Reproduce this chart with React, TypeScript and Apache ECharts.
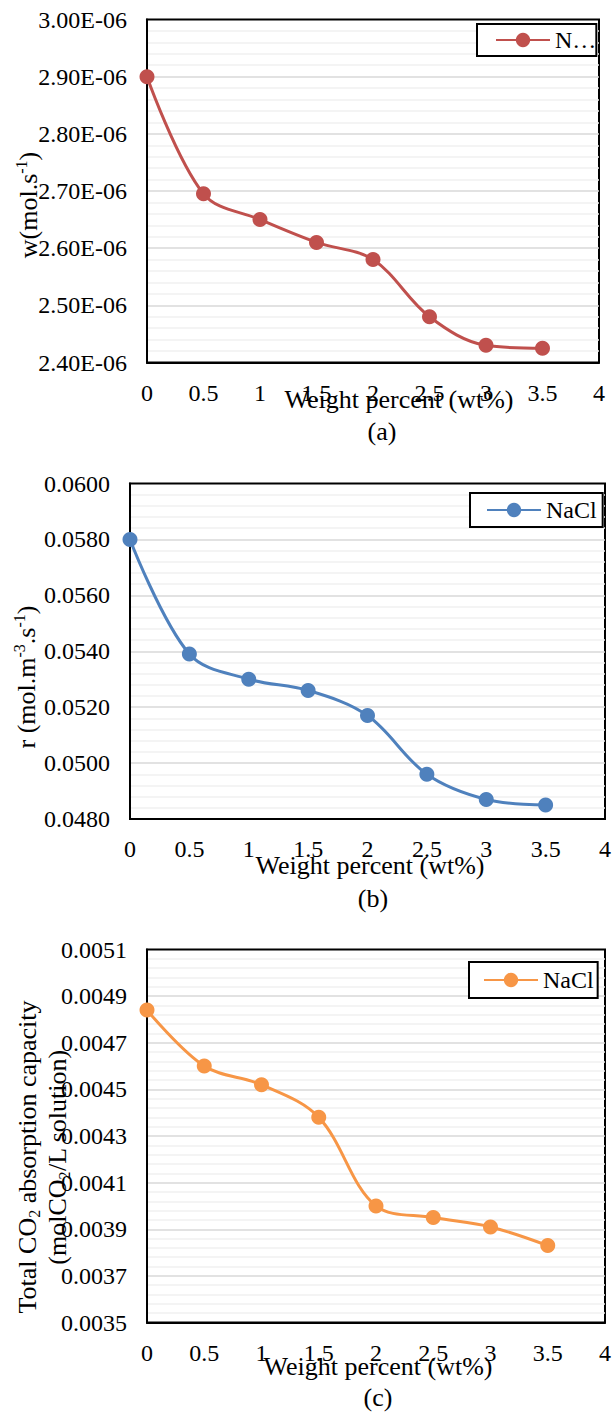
import { useEffect, useRef } from "react";
import * as echarts from "echarts";

// ---------- data ----------
const weightPercent = [0, 0.5, 1, 1.5, 2, 2.5, 3, 3.5];
const wRate = [2.9e-6, 2.695e-6, 2.65e-6, 2.61e-6, 2.58e-6, 2.48e-6, 2.43e-6, 2.425e-6];
const rRate = [0.058, 0.0539, 0.053, 0.0526, 0.0517, 0.0496, 0.0487, 0.0485];
const co2Capacity = [0.00484, 0.0046, 0.00452, 0.00438, 0.004, 0.00395, 0.00391, 0.00383];

const xTickRange = { min: 0, max: 4, interval: 0.5 };
const wTickRange = { min: 2.4e-6, max: 3.0e-6, interval: 1e-7 };
const rTickRange = { min: 0.048, max: 0.06, interval: 0.002 };
const cTickRange = { min: 0.0035, max: 0.0051, interval: 0.0002 };

const seriesNames = ["NaCl (a)", "NaCl (b)", "NaCl (c)"];
const legendLabel = "NaCl";
const xTitle = "Weight percent (wt%)";
const panelLabels = ["(a)", "(b)", "(c)"];

// ---------- layout & style ----------
const FONT = "Liberation Serif, serif";
const colors = ["#C0504D", "#4F81BD", "#F79646"];
const grids = [
  { left: 147, top: 19.5, width: 452, height: 343 },
  { left: 130, top: 483.5, width: 480, height: 335.5 },
  { left: 147, top: 949.5, width: 461.5, height: 373 },
];
const legends = [
  { left: 477, top: 24, padding: [4, 0, 4, 18], textWidth: 44 },
  { left: 470, top: 493, padding: [5, 6, 5, 16], textWidth: undefined },
  { left: 469, top: 962, padding: [6, 4, 6, 14], textWidth: undefined },
];
const xTitlePos = [
  { x: 399, y: 399 },
  { x: 370, y: 865 },
  { x: 378, y: 1366 },
];
const panelPos = [
  { x: 382, y: 431 },
  { x: 373, y: 898 },
  { x: 378, y: 1397 },
];

const fmtW = (v: number) => (v * 1e6).toFixed(2) + "E-06";
const fmt4 = (v: number) => v.toFixed(4);

export default function App() {
  const ref = useRef<HTMLDivElement>(null);

  useEffect(() => {
    if (!ref.current) return;
    const chart = echarts.init(ref.current, null, { renderer: "svg" });

    const yRanges = [wTickRange, rTickRange, cTickRange];
    const yFormatters = [fmtW, fmt4, fmt4];
    const values = [wRate, rRate, co2Capacity];

    const rich = {
      m: { fontSize: 26, fontFamily: FONT, lineHeight: 30, color: "#000" },
      sup: { fontSize: 16, fontFamily: FONT, verticalAlign: "top", color: "#000" },
      sub: { fontSize: 16, fontFamily: FONT, verticalAlign: "bottom", color: "#000" },
    };

    const textEl = (x: number, y: number, text: string, rotate = false) => ({
      type: "text",
      x,
      y,
      rotation: rotate ? Math.PI / 2 : 0,
      z: 100,
      style: {
        text,
        rich,
        fontSize: 26,
        fontFamily: FONT,
        fill: "#000",
        align: "center",
        verticalAlign: "middle",
      },
    });

    const option: any = {
      animation: false,
      backgroundColor: "#fff",
      textStyle: { fontFamily: FONT },
      grid: grids.map((g) => ({
        ...g,
        show: true,
        borderColor: "#000",
        borderWidth: 2,
        backgroundColor: "transparent",
        containLabel: false,
      })),
      xAxis: grids.map((_, i) => ({
        gridIndex: i,
        type: "value",
        min: xTickRange.min,
        max: xTickRange.max,
        interval: xTickRange.interval,
        axisLine: { show: true, onZero: false, lineStyle: { color: "#000", width: 2 } },
        axisTick: { show: false },
        splitLine: { show: false },
        axisLabel: {
          margin: 18,
          fontSize: 24,
          fontFamily: FONT,
          color: "#000",
          formatter: (v: number) => String(v),
        },
      })),
      yAxis: grids.map((_, i) => ({
        gridIndex: i,
        type: "value",
        min: yRanges[i].min,
        max: yRanges[i].max,
        interval: yRanges[i].interval,
        axisLine: { show: true, onZero: false, lineStyle: { color: "#000", width: 2 } },
        axisTick: { show: false },
        axisLabel: {
          margin: 20,
          fontSize: 24,
          fontFamily: FONT,
          color: "#000",
          formatter: yFormatters[i],
        },
        splitLine: {
          show: true,
          showMinLine: false,
          showMaxLine: false,
          lineStyle: { color: "#d9d9d9", width: 1.5 },
        },
        minorTick: { show: false, splitNumber: 5 },
        minorSplitLine: { show: true, lineStyle: { color: "#f0f0f0", width: 1.5 } },
      })),
      legend: legends.map((l, i) => ({
        data: [seriesNames[i]],
        left: l.left,
        top: l.top,
        padding: l.padding,
        itemWidth: 54,
        itemHeight: 18,
        selectedMode: false,
        borderColor: "#000",
        borderWidth: 2,
        backgroundColor: "#fff",
        formatter: () => legendLabel,
        textStyle: {
          fontSize: 24,
          fontFamily: FONT,
          color: "#000",
          ...(l.textWidth ? { width: l.textWidth, overflow: "truncate", ellipsis: "…" } : {}),
        },
      })),
      series: values.map((vals, i) => ({
        name: seriesNames[i],
        type: "line",
        xAxisIndex: i,
        yAxisIndex: i,
        data: weightPercent.map((x, j) => [x, vals[j]]),
        smooth: 0.35,
        symbol: "circle",
        symbolSize: 15,
        clip: false,
        z: 5,
        lineStyle: { color: colors[i], width: 3 },
        itemStyle: { color: colors[i] },
      })),
      graphic: [
        textEl(28, 205, "{m|w(mol.s}{sup|-1}{m|)}", true),
        textEl(26, 677, "{m|r (mol.m}{sup|-3}{m|.s}{sup|-1}{m|)}", true),
        textEl(27, 1157, "{m|Total CO}{sub|2}{m| absorption capacity}", true),
        textEl(57, 1157, "{m|(molCO}{sub|2}{m|/L solution)}", true),
        ...xTitlePos.map((p) => textEl(p.x, p.y, xTitle)),
        ...panelPos.map((p, i) => textEl(p.x, p.y, panelLabels[i])),
      ],
    };

    chart.setOption(option);
    return () => chart.dispose();
  }, []);

  return (
    <div
      ref={ref}
      style={{ position: "absolute", left: 0, top: 0, width: 614, height: 1412 }}
    />
  );
}
